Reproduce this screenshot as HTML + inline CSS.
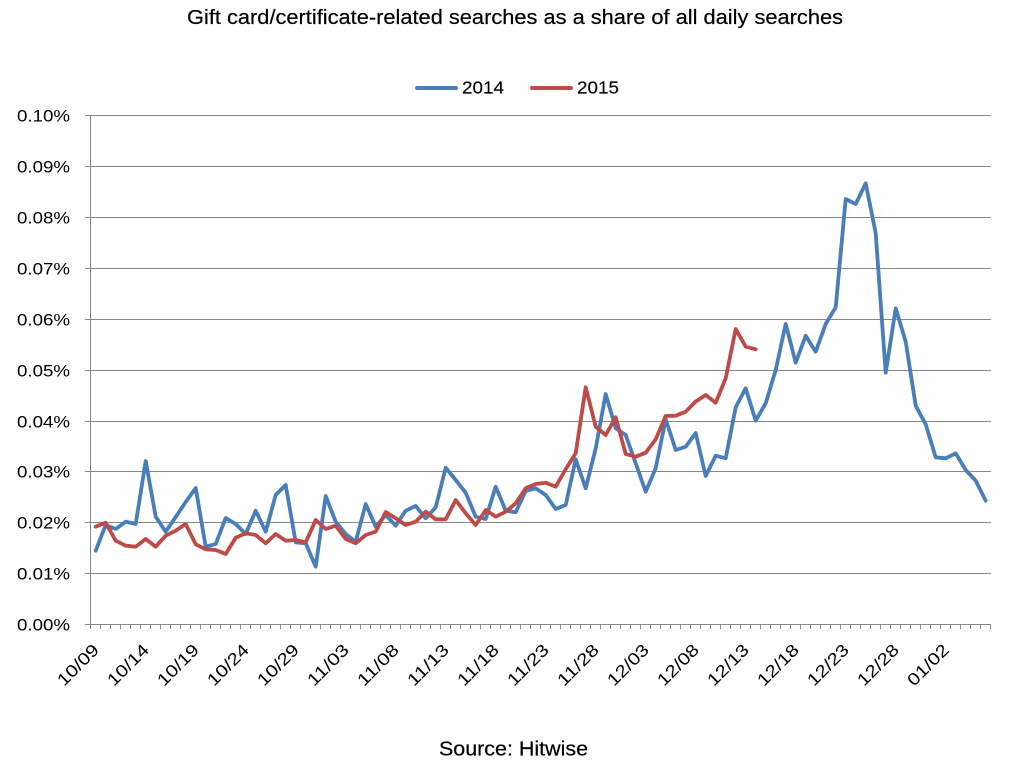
<!DOCTYPE html>
<html>
<head>
<meta charset="utf-8">
<style>
  html, body { margin: 0; padding: 0; background: #ffffff; }
  body { width: 1018px; height: 778px; overflow: hidden; }
  svg { display: block; }
  text { font-family: "Liberation Sans", sans-serif; fill: #000; }
</style>
</head>
<body>
<svg width="1018" height="778" viewBox="0 0 1018 778" xmlns="http://www.w3.org/2000/svg">
  <rect x="0" y="0" width="1018" height="778" fill="#ffffff"/>

  <!-- Title -->
  <text x="187" y="24" font-size="20" textLength="656" lengthAdjust="spacingAndGlyphs" stroke="#000" stroke-width="0.2">Gift card/certificate-related searches as a share of all daily searches</text>

  <!-- Legend -->
  <line x1="417" y1="88" x2="456" y2="88" stroke="#4a7ebb" stroke-width="4" stroke-linecap="round"/>
  <text x="462" y="93.5" font-size="17.5" textLength="42" lengthAdjust="spacingAndGlyphs" stroke="#000" stroke-width="0.15">2014</text>
  <line x1="532" y1="88" x2="571" y2="88" stroke="#be4b48" stroke-width="4" stroke-linecap="round"/>
  <text x="577" y="93.5" font-size="17.5" textLength="42" lengthAdjust="spacingAndGlyphs" stroke="#000" stroke-width="0.15">2015</text>

  <!-- Gridlines -->
  <g stroke="#888888" stroke-width="1" shape-rendering="crispEdges">
    <line x1="85" y1="115.5" x2="991" y2="115.5"/>
    <line x1="85" y1="166.5" x2="991" y2="166.5"/>
    <line x1="85" y1="217.5" x2="991" y2="217.5"/>
    <line x1="85" y1="268.5" x2="991" y2="268.5"/>
    <line x1="85" y1="319.5" x2="991" y2="319.5"/>
    <line x1="85" y1="370.5" x2="991" y2="370.5"/>
    <line x1="85" y1="421.5" x2="991" y2="421.5"/>
    <line x1="85" y1="471.5" x2="991" y2="471.5"/>
    <line x1="85" y1="522.5" x2="991" y2="522.5"/>
    <line x1="85" y1="573.5" x2="991" y2="573.5"/>
    <line x1="85" y1="624.5" x2="991" y2="624.5"/>
    <!-- y axis -->
    <line x1="90.5" y1="115" x2="90.5" y2="625"/>
    <!-- x ticks -->
    <path d="M90.5 624V629 M100.5 624V629 M110.5 624V629 M120.5 624V629 M130.5 624V629 M140.5 624V629 M150.5 624V629 M160.5 624V629 M170.5 624V629 M180.5 624V629 M190.5 624V629 M200.5 624V629 M210.5 624V629 M220.5 624V629 M230.5 624V629 M240.5 624V629 M250.5 624V629 M260.5 624V629 M270.5 624V629 M280.5 624V629 M290.5 624V629 M300.5 624V629 M310.5 624V629 M320.5 624V629 M330.5 624V629 M340.5 624V629 M350.5 624V629 M360.5 624V629 M370.5 624V629 M380.5 624V629 M390.5 624V629 M400.5 624V629 M410.5 624V629 M420.5 624V629 M430.5 624V629 M440.5 624V629 M450.5 624V629 M460.5 624V629 M470.5 624V629 M480.5 624V629 M490.5 624V629 M500.5 624V629 M510.5 624V629 M520.5 624V629 M530.5 624V629 M540.5 624V629 M550.5 624V629 M560.5 624V629 M570.5 624V629 M580.5 624V629 M590.5 624V629 M600.5 624V629 M610.5 624V629 M620.5 624V629 M630.5 624V629 M640.5 624V629 M650.5 624V629 M660.5 624V629 M670.5 624V629 M680.5 624V629 M690.5 624V629 M700.5 624V629 M710.5 624V629 M720.5 624V629 M730.5 624V629 M740.5 624V629 M750.5 624V629 M760.5 624V629 M770.5 624V629 M780.5 624V629 M790.5 624V629 M800.5 624V629 M810.5 624V629 M820.5 624V629 M830.5 624V629 M840.5 624V629 M850.5 624V629 M860.5 624V629 M870.5 624V629 M880.5 624V629 M890.5 624V629 M900.5 624V629 M910.5 624V629 M920.5 624V629 M930.5 624V629 M940.5 624V629 M950.5 624V629 M960.5 624V629 M970.5 624V629 M980.5 624V629 M990.5 624V629" fill="none"/>
  </g>

  <!-- Y labels -->
  <g font-size="17" text-anchor="end">
    <text x="70" y="121.5" textLength="53" lengthAdjust="spacingAndGlyphs">0.10%</text>
    <text x="70" y="172.5" textLength="53" lengthAdjust="spacingAndGlyphs">0.09%</text>
    <text x="70" y="223.5" textLength="53" lengthAdjust="spacingAndGlyphs">0.08%</text>
    <text x="70" y="274.5" textLength="53" lengthAdjust="spacingAndGlyphs">0.07%</text>
    <text x="70" y="325.5" textLength="53" lengthAdjust="spacingAndGlyphs">0.06%</text>
    <text x="70" y="376.5" textLength="53" lengthAdjust="spacingAndGlyphs">0.05%</text>
    <text x="70" y="427.5" textLength="53" lengthAdjust="spacingAndGlyphs">0.04%</text>
    <text x="70" y="477.5" textLength="53" lengthAdjust="spacingAndGlyphs">0.03%</text>
    <text x="70" y="528.5" textLength="53" lengthAdjust="spacingAndGlyphs">0.02%</text>
    <text x="70" y="579.5" textLength="53" lengthAdjust="spacingAndGlyphs">0.01%</text>
    <text x="70" y="630.5" textLength="53" lengthAdjust="spacingAndGlyphs">0.00%</text>
  </g>

  <!-- X labels -->
  <g font-size="17" text-anchor="end">
    <text transform="translate(100,651) rotate(-45)" textLength="51" lengthAdjust="spacingAndGlyphs">10/09</text>
    <text transform="translate(150,651) rotate(-45)" textLength="51" lengthAdjust="spacingAndGlyphs">10/14</text>
    <text transform="translate(200,651) rotate(-45)" textLength="51" lengthAdjust="spacingAndGlyphs">10/19</text>
    <text transform="translate(250,651) rotate(-45)" textLength="51" lengthAdjust="spacingAndGlyphs">10/24</text>
    <text transform="translate(300,651) rotate(-45)" textLength="51" lengthAdjust="spacingAndGlyphs">10/29</text>
    <text transform="translate(350,651) rotate(-45)" textLength="51" lengthAdjust="spacingAndGlyphs">11/03</text>
    <text transform="translate(400,651) rotate(-45)" textLength="51" lengthAdjust="spacingAndGlyphs">11/08</text>
    <text transform="translate(450,651) rotate(-45)" textLength="51" lengthAdjust="spacingAndGlyphs">11/13</text>
    <text transform="translate(500,651) rotate(-45)" textLength="51" lengthAdjust="spacingAndGlyphs">11/18</text>
    <text transform="translate(550,651) rotate(-45)" textLength="51" lengthAdjust="spacingAndGlyphs">11/23</text>
    <text transform="translate(600,651) rotate(-45)" textLength="51" lengthAdjust="spacingAndGlyphs">11/28</text>
    <text transform="translate(650,651) rotate(-45)" textLength="51" lengthAdjust="spacingAndGlyphs">12/03</text>
    <text transform="translate(700,651) rotate(-45)" textLength="51" lengthAdjust="spacingAndGlyphs">12/08</text>
    <text transform="translate(750,651) rotate(-45)" textLength="51" lengthAdjust="spacingAndGlyphs">12/13</text>
    <text transform="translate(800,651) rotate(-45)" textLength="51" lengthAdjust="spacingAndGlyphs">12/18</text>
    <text transform="translate(850,651) rotate(-45)" textLength="51" lengthAdjust="spacingAndGlyphs">12/23</text>
    <text transform="translate(900,651) rotate(-45)" textLength="51" lengthAdjust="spacingAndGlyphs">12/28</text>
    <text transform="translate(950,651) rotate(-45)" textLength="51" lengthAdjust="spacingAndGlyphs">01/02</text>
  </g>

  <!-- 2014 series -->
  <polyline fill="none" stroke="#4a7ebb" stroke-width="3.8" stroke-linejoin="round" stroke-linecap="round"
    points="95.7,550.7 105.7,525 115.7,529 125.7,521.7 135.7,524 145.7,461 155.7,516.7 165.7,531.7 175.7,517 185.7,502 195.7,488 205.7,546.7 215.7,544 225.7,518 235.7,524 245.7,534 255.7,510.7 265.7,531.7 275.7,495 285.7,485 295.7,542.3 305.7,543.3 315.7,566.7 325.7,496 335.7,521.7 345.7,534 355.7,541.7 365.7,504 375.7,526.7 385.7,515 395.7,525.7 405.7,510.7 415.7,506 425.7,518.3 435.7,507.3 445.7,467.7 455.7,480 465.7,492.7 475.7,516.7 485.7,519 495.7,486.7 505.7,510.7 515.7,512.3 525.7,491 535.7,488.3 545.7,495 555.7,509 565.7,505 575.7,459.3 585.7,488.3 595.7,448.3 605.7,394 615.7,428.3 625.7,435 635.7,463.3 645.7,491.7 655.7,468.3 665.7,419.3 675.7,450 685.7,446.7 695.7,433 705.7,476 715.7,455.7 725.7,458.3 735.7,407.3 745.7,388.3 755.7,420.7 765.7,403.3 775.7,370 785.7,324 795.7,362.7 805.7,335.7 815.7,351.7 825.7,324 835.7,307.3 845.7,199 855.7,204 865.7,183.3 875.7,233.3 885.7,372.7 895.7,308.3 905.7,341.7 915.7,405.7 925.7,424.3 935.7,457.3 945.7,458.3 955.7,453.3 965.7,470 975.7,480.7 985.7,500.7"/>

  <!-- 2015 series -->
  <polyline fill="none" stroke="#be4b48" stroke-width="3.8" stroke-linejoin="round" stroke-linecap="round"
    points="95.7,526.7 105.7,522.7 115.7,540.7 125.7,545.7 135.7,546.7 145.7,539 155.7,546.7 165.7,535.7 175.7,530.7 185.7,524 195.7,544.3 205.7,549.3 215.7,550 225.7,554 235.7,537.7 245.7,533.3 255.7,535 265.7,543.3 275.7,534 285.7,540.7 295.7,540 305.7,542.3 315.7,520 325.7,529 335.7,525.7 345.7,539 355.7,543.3 365.7,535 375.7,531.7 385.7,512 395.7,518.3 405.7,525 415.7,521.7 425.7,511.7 435.7,519.3 445.7,519.3 455.7,500 465.7,513.3 475.7,525 485.7,510 495.7,516.7 505.7,511.7 515.7,503.3 525.7,488.3 535.7,484 545.7,482.7 555.7,486.7 565.7,469.3 575.7,453.3 585.7,387.3 595.7,426.7 605.7,435 615.7,417.3 625.7,454 635.7,456.7 645.7,452.7 655.7,439.3 665.7,416 675.7,415.7 685.7,411.7 695.7,401.5 705.7,395 715.7,402.7 725.7,378.3 735.7,329 745.7,346.7 755.7,349.3"/>

  <!-- Source -->
  <text x="439" y="755.5" font-size="20" textLength="149" lengthAdjust="spacingAndGlyphs" stroke="#000" stroke-width="0.2">Source: Hitwise</text>
</svg>
</body>
</html>
